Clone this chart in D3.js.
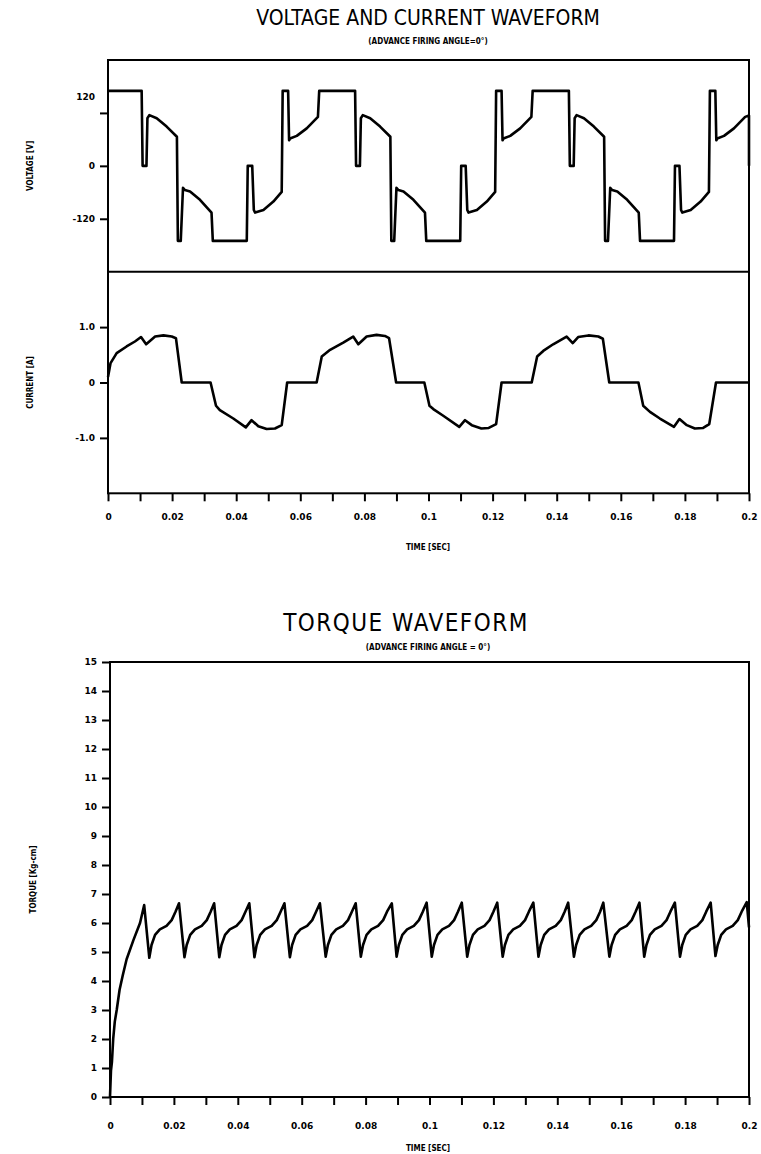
<!DOCTYPE html>
<html>
<head>
<meta charset="utf-8">
<title>Voltage, current and torque waveform</title>
<script src="https://cdn.jsdelivr.net/npm/d3@7"></script>
<style>
  body { margin: 0; background: #fff; }
  svg { display: block; }
  .tick text { font-family: "DejaVu Sans", sans-serif; font-weight: bold; font-size: 9px; fill: #000; }
  .tick line { stroke: #000; stroke-width: 2; }
  .title { font-family: "Liberation Sans Narrow", "DejaVu Sans Condensed", sans-serif; font-size: 21px; }
  .sub { font-family: "DejaVu Sans Condensed", sans-serif; font-weight: bold; font-size: 8px; }
  .lab { font-family: "DejaVu Sans Condensed", sans-serif; font-weight: bold; font-size: 8px; }
</style>
</head>
<body>
<script>
// time axis (seconds)
const timeTicks = [0, 0.01, 0.02, 0.03, 0.04, 0.05, 0.06, 0.07, 0.08, 0.09, 0.1,
                   0.11, 0.12, 0.13, 0.14, 0.15, 0.16, 0.17, 0.18, 0.19, 0.2];
const timeLabels = ["0", "0.02", "0.04", "0.06", "0.08", "0.1", "0.12", "0.14", "0.16", "0.18", "0.2"];

// voltage [V]
const voltTicks = [-120, 0, 120];
const voltLabels = ["-120", "0", "120"];
const voltTime = [
  0, 0.0105, 0.0108, 0.0120, 0.0123, 0.0129, 0.0152, 0.0183, 0.0215, 0.0218, 0.0227, 0.0234, 0.0240, 0.0256, 0.0287, 0.0323,
  0.0327, 0.0433, 0.0436, 0.0450, 0.0455, 0.0459, 0.0485, 0.0516, 0.0542, 0.0545, 0.0562, 0.0565, 0.0568, 0.0589, 0.0620, 0.0655, 0.0659,
  0.0771, 0.0774, 0.0786, 0.0789, 0.0795, 0.0818, 0.0849, 0.0881, 0.0884, 0.0893, 0.0900, 0.0906, 0.0922, 0.0953, 0.0989,
  0.0993, 0.1099, 0.1102, 0.1116, 0.1121, 0.1125, 0.1151, 0.1182, 0.1208, 0.1211, 0.1228, 0.1231, 0.1234, 0.1255, 0.1286, 0.1321, 0.1325,
  0.1438, 0.1441, 0.1453, 0.1456, 0.1462, 0.1485, 0.1516, 0.1548, 0.1551, 0.1560, 0.1567, 0.1573, 0.1589, 0.1620, 0.1656,
  0.1660, 0.1766, 0.1769, 0.1783, 0.1788, 0.1792, 0.1818, 0.1849, 0.1875, 0.1878, 0.1895, 0.1898, 0.1901, 0.1922, 0.1953, 0.1988, 0.2000, 0.2000
];
const voltValue = [
  170, 170, 0, 0, 108, 115, 108, 89, 66, -170, -170, -50, -55, -58, -77, -106,
  -170, -170, 0, 0, -100, -106, -100, -81, -59, 170, 170, 58, 62, 68, 85, 111, 170,
  170, 0, 0, 108, 115, 108, 89, 66, -170, -170, -50, -55, -58, -77, -106,
  -170, -170, 0, 0, -100, -106, -100, -81, -59, 170, 170, 58, 62, 68, 85, 111, 170,
  170, 0, 0, 108, 115, 108, 89, 66, -170, -170, -50, -55, -58, -77, -106,
  -170, -170, 0, 0, -100, -106, -100, -81, -59, 170, 170, 58, 62, 68, 85, 111, 114, 0
];

// current [A]
const currTicks = [-1, 0, 1];
const currLabels = ["-1.0", "0", "1.0"];
const currTime = [
  0, 0.0008, 0.0027, 0.0058, 0.0084, 0.0103, 0.0119, 0.0147, 0.0173, 0.0199, 0.0212, 0.0230,
  0.0320, 0.0337, 0.0349, 0.0391, 0.0430, 0.0448, 0.0469, 0.0495, 0.0521, 0.0542, 0.0559,
  0.0651, 0.0667, 0.0693, 0.0734, 0.0765, 0.0781, 0.0807, 0.0838, 0.0864, 0.0877, 0.0899,
  0.0987, 0.1003, 0.1015, 0.1046, 0.1096, 0.1114, 0.1135, 0.1165, 0.1188, 0.1211, 0.1228,
  0.1322, 0.1339, 0.1358, 0.1389, 0.1431, 0.1450, 0.1467, 0.1499, 0.1530, 0.1544, 0.1564,
  0.1655, 0.1670, 0.1691, 0.1722, 0.1766, 0.1783, 0.1806, 0.1831, 0.1857, 0.1876, 0.1897, 0.2000
];
const currValue = [
  0.10, 0.35, 0.53, 0.65, 0.74, 0.82, 0.69, 0.83, 0.85, 0.83, 0.80, 0,
  0, -0.42, -0.50, -0.65, -0.81, -0.68, -0.79, -0.84, -0.83, -0.77, 0,
  0, 0.47, 0.59, 0.72, 0.83, 0.69, 0.83, 0.86, 0.84, 0.80, 0,
  0, -0.42, -0.48, -0.60, -0.80, -0.68, -0.77, -0.83, -0.82, -0.75, 0,
  0, 0.47, 0.57, 0.69, 0.83, 0.71, 0.82, 0.85, 0.83, 0.79, 0,
  0, -0.42, -0.53, -0.65, -0.80, -0.66, -0.77, -0.83, -0.82, -0.75, 0, 0
];

// torque [Kg-cm]
const torqueTicks = [0, 1, 2, 3, 4, 5, 6, 7, 8, 9, 10, 11, 12, 13, 14, 15];
const torqueTime = [
  0, 0.0003, 0.0006, 0.0010, 0.0015, 0.0021, 0.0030, 0.0040, 0.0052, 0.0073, 0.0094, 0.0107,
  0.0123, 0.0130, 0.0141, 0.0156, 0.0177, 0.0193, 0.0205, 0.0216,
  0.0233, 0.0240, 0.0251, 0.0266, 0.0287, 0.0303, 0.0315, 0.0326,
  0.0342, 0.0349, 0.0360, 0.0375, 0.0396, 0.0412, 0.0424, 0.0436,
  0.0452, 0.0459, 0.0470, 0.0485, 0.0506, 0.0522, 0.0534, 0.0546,
  0.0563, 0.0570, 0.0581, 0.0596, 0.0617, 0.0633, 0.0645, 0.0657,
  0.0675, 0.0682, 0.0693, 0.0708, 0.0729, 0.0745, 0.0757, 0.0769,
  0.0785, 0.0792, 0.0803, 0.0818, 0.0839, 0.0855, 0.0867, 0.0882,
  0.0897, 0.0904, 0.0915, 0.0930, 0.0951, 0.0967, 0.0979, 0.0991,
  0.1007, 0.1014, 0.1025, 0.1040, 0.1061, 0.1077, 0.1089, 0.1101,
  0.1118, 0.1125, 0.1136, 0.1151, 0.1172, 0.1188, 0.1200, 0.1212,
  0.1229, 0.1236, 0.1247, 0.1262, 0.1283, 0.1299, 0.1311, 0.1325,
  0.1341, 0.1348, 0.1359, 0.1374, 0.1395, 0.1411, 0.1423, 0.1434,
  0.1452, 0.1459, 0.1470, 0.1485, 0.1506, 0.1522, 0.1534, 0.1544,
  0.1563, 0.1570, 0.1581, 0.1596, 0.1617, 0.1633, 0.1645, 0.1657,
  0.1672, 0.1679, 0.1690, 0.1705, 0.1726, 0.1742, 0.1754, 0.1768,
  0.1784, 0.1791, 0.1802, 0.1817, 0.1838, 0.1854, 0.1866, 0.1880,
  0.1895, 0.1902, 0.1913, 0.1928, 0.1949, 0.1965, 0.1977, 0.1993,
  0.2000
];
const torqueValue = [
  0, 0.9, 1.2, 2.0, 2.6, 3.0, 3.7, 4.2, 4.75, 5.4, 6.0, 6.62,
  4.80, 5.24, 5.59, 5.78, 5.90, 6.10, 6.39, 6.68,
  4.82, 5.24, 5.59, 5.78, 5.90, 6.10, 6.39, 6.68,
  4.82, 5.24, 5.59, 5.78, 5.90, 6.10, 6.39, 6.68,
  4.82, 5.24, 5.59, 5.78, 5.90, 6.10, 6.39, 6.68,
  4.82, 5.24, 5.59, 5.78, 5.90, 6.10, 6.39, 6.68,
  4.84, 5.24, 5.59, 5.78, 5.90, 6.10, 6.39, 6.68,
  4.84, 5.24, 5.59, 5.78, 5.90, 6.10, 6.39, 6.68,
  4.84, 5.24, 5.59, 5.78, 5.90, 6.10, 6.39, 6.70,
  4.84, 5.24, 5.59, 5.78, 5.90, 6.10, 6.39, 6.70,
  4.84, 5.24, 5.59, 5.78, 5.90, 6.10, 6.39, 6.70,
  4.84, 5.24, 5.59, 5.78, 5.90, 6.10, 6.39, 6.70,
  4.84, 5.24, 5.59, 5.78, 5.90, 6.10, 6.39, 6.70,
  4.84, 5.24, 5.59, 5.78, 5.90, 6.10, 6.39, 6.70,
  4.84, 5.24, 5.59, 5.78, 5.90, 6.10, 6.39, 6.70,
  4.84, 5.24, 5.59, 5.78, 5.90, 6.10, 6.39, 6.70,
  4.84, 5.24, 5.59, 5.78, 5.90, 6.10, 6.39, 6.70,
  4.86, 5.24, 5.59, 5.78, 5.90, 6.10, 6.39, 6.72,
  5.85
];

const W = 761, H = 1154;
const svg = d3.select("body").append("svg").attr("width", W).attr("height", H);

// ---------- top chart: voltage + current ----------
let topL = 108, topR = 749, vTop = 60, split = 271.7, cBot = 493.3;
let xTop = d3.scaleLinear().domain([0, 0.2]).range([topL, topR]);
let yVolt = d3.scaleLinear().domain([-240, 240]).range([split, vTop]);
let yCurr = d3.scaleLinear().domain([-2, 2]).range([cBot, split]);

svg.append("text").attr("class", "title").attr("x", 428).attr("y", 25)
  .attr("text-anchor", "middle").text("VOLTAGE AND CURRENT WAVEFORM");
svg.append("text").attr("class", "sub").attr("x", 428).attr("y", 44)
  .attr("text-anchor", "middle").text("(ADVANCE FIRING ANGLE=0°)");

function timeAxis(x, yPos, pad) {
  svg.append("g").attr("transform", "translate(0," + yPos + ")")
    .call(d3.axisBottom(x).tickValues(timeTicks).tickSize(8).tickPadding(pad)
      .tickFormat((d, i) => i % 2 === 0 ? timeLabels[i / 2] : ""))
    .call(g => g.select(".domain").remove());
}

function leftAxis(y, ticks, labels, xPos) {
  return svg.append("g").attr("transform", "translate(" + xPos + ",0)")
    .call(d3.axisLeft(y).tickValues(ticks).tickSize(8).tickPadding(5)
      .tickFormat((d, i) => labels[i]))
    .call(g => g.select(".domain").remove());
}

let vAxis = leftAxis(yVolt, voltTicks, voltLabels, topL);
// the "120" label sits above its tick, level with the flat top of the wave
vAxis.selectAll(".tick text").filter(d => d === 120).attr("dy", "-1.5em");
leftAxis(yCurr, currTicks, currLabels, topL);
timeAxis(xTop, cBot, 12);

// frame + divider
svg.append("rect").attr("x", topL).attr("y", vTop).attr("width", topR - topL).attr("height", cBot - vTop)
  .attr("fill", "none").attr("stroke", "#000").attr("stroke-width", 2);
svg.append("line").attr("x1", topL).attr("x2", topR).attr("y1", split).attr("y2", split)
  .attr("stroke", "#000").attr("stroke-width", 2);

let voltLine = d3.line().x((d, i) => xTop(voltTime[i])).y(d => yVolt(d));
let currLine = d3.line().x((d, i) => xTop(currTime[i])).y(d => yCurr(d));

svg.append("path").datum(voltValue).attr("d", voltLine)
  .attr("fill", "none").attr("stroke", "#000").attr("stroke-width", 2.6).attr("stroke-linejoin", "round");
svg.append("path").datum(currValue).attr("d", currLine)
  .attr("fill", "none").attr("stroke", "#000").attr("stroke-width", 2.6).attr("stroke-linejoin", "round");

svg.append("text").attr("class", "lab").attr("transform", "translate(33," + yVolt(0) + ") rotate(-90)")
  .attr("text-anchor", "middle").text("VOLTAGE [V]");
svg.append("text").attr("class", "lab").attr("transform", "translate(33," + yCurr(0) + ") rotate(-90)")
  .attr("text-anchor", "middle").text("CURRENT [A]");
svg.append("text").attr("class", "lab").attr("x", 428).attr("y", 550)
  .attr("text-anchor", "middle").text("TIME [SEC]");

// ---------- bottom chart: torque ----------
let botL = 110, botR = 749, tTop = 662, tBot = 1097;
let xBot = d3.scaleLinear().domain([0, 0.2]).range([botL, botR]);
let yTorq = d3.scaleLinear().domain([0, 15]).range([tBot, tTop]);

svg.append("text").attr("class", "title").attr("x", 406).attr("y", 631)
  .attr("text-anchor", "middle").style("font-size", "24px").style("letter-spacing", "1.5px")
  .text("TORQUE WAVEFORM");
svg.append("text").attr("class", "sub").attr("x", 428).attr("y", 650)
  .attr("text-anchor", "middle").text("(ADVANCE FIRING ANGLE = 0°)");

leftAxis(yTorq, torqueTicks, torqueTicks.map(String), botL);
timeAxis(xBot, tBot, 18);

svg.append("rect").attr("x", botL).attr("y", tTop).attr("width", botR - botL).attr("height", tBot - tTop)
  .attr("fill", "none").attr("stroke", "#000").attr("stroke-width", 2);

let torqueLine = d3.line().x((d, i) => xBot(torqueTime[i])).y(d => yTorq(d));
svg.append("path").datum(torqueValue).attr("d", torqueLine)
  .attr("fill", "none").attr("stroke", "#000").attr("stroke-width", 2.6).attr("stroke-linejoin", "round");

svg.append("text").attr("class", "lab").attr("transform", "translate(36," + yTorq(7.5) + ") rotate(-90)")
  .attr("text-anchor", "middle").text("TORQUE  [Kg-cm]");
svg.append("text").attr("class", "lab").attr("x", 428).attr("y", 1151)
  .attr("text-anchor", "middle").text("TIME [SEC]");
</script>
</body>
</html>
